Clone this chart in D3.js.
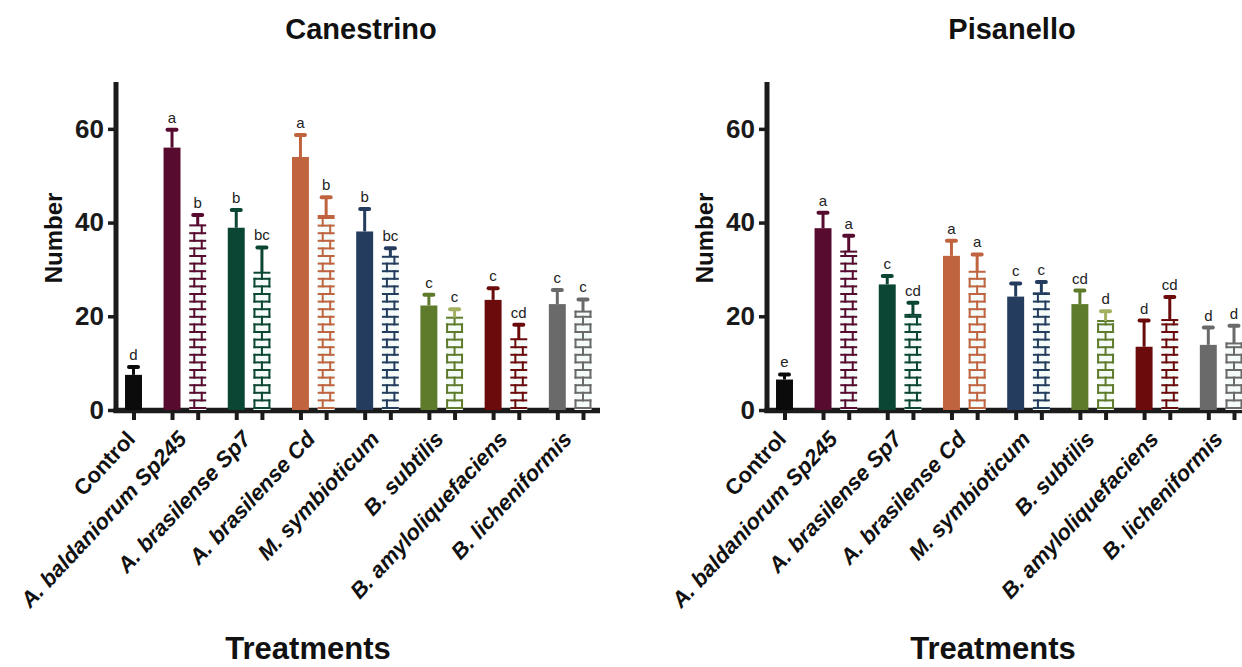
<!DOCTYPE html>
<html>
<head>
<meta charset="utf-8">
<script src="https://cdn.jsdelivr.net/npm/d3@7/dist/d3.min.js"></script>
<style>
  html, body { margin: 0; padding: 0; background: #fff; }
  svg { display: block; font-family: "Liberation Sans", Arial, Helvetica, sans-serif; }
</style>
</head>
<body>
<svg id="chart" width="1242" height="667"></svg>
<script>
// ---- data ----
const treatments = ["Control", "A. baldaniorum Sp245", "A. brasilense Sp7", "A. brasilense Cd",
  "M. symbioticum", "B. subtilis", "B. amyloliquefaciens", "B. licheniformis"];
const italicLabel = [false, true, true, true, true, true, true, true];
const groupColors = ["#0b0b0b", "#570b2f", "#0b4533", "#c0633f", "#243d5e", "#5e7b2b", "#6b0b0c", "#6a6a6a"];
// error bar colour of the patterned bar in each inoculated group
const patternErrColors = ["#570b2f", "#0b4533", "#c0633f", "#243d5e", "#a3b062", "#6b0b0c", "#6a6a6a"];
const yTicks = [0, 20, 40, 60];

// Canestrino: solid bars (all 8 treatments) and patterned bars (7 inoculated treatments)
const canSolidMean = [7.5, 56.0, 38.9, 54.0, 38.1, 22.3, 23.5, 22.6];
const canSolidSD   = [1.7, 3.8, 3.8, 4.7, 4.8, 2.3, 2.5, 3.0];
const canSolidLetters = ["d", "a", "b", "a", "b", "c", "c", "c"];
const canPatMean = [39.4, 29.3, 41.4, 32.7, 19.7, 15.1, 21.0];
const canPatSD   = [2.2, 5.4, 4.0, 1.8, 1.8, 3.1, 2.6];
const canPatLetters = ["b", "bc", "b", "bc", "c", "cd", "c"];
const canPatStyle = ["brick", "box", "brick", "brick", "box", "brick", "box"];

// Pisanello
const pisSolidMean = [6.5, 38.8, 26.8, 32.9, 24.2, 22.6, 13.5, 13.9];
const pisSolidSD   = [1.1, 3.3, 1.8, 3.2, 2.8, 2.9, 5.6, 3.7];
const pisSolidLetters = ["e", "a", "c", "a", "c", "cd", "d", "d"];
const pisPatMean = [33.8, 20.3, 29.5, 24.9, 19.0, 19.2, 14.2];
const pisPatSD   = [3.4, 2.6, 3.7, 2.4, 2.1, 4.9, 3.8];
const pisPatLetters = ["a", "cd", "a", "c", "d", "cd", "d"];
const pisPatStyle = ["brick", "brick", "box", "brick", "box", "brick", "box"];

const panels = [
  { title: "Canestrino", solidMean: canSolidMean, solidSD: canSolidSD, solidLetters: canSolidLetters,
    patMean: canPatMean, patSD: canPatSD, patLetters: canPatLetters, patStyle: canPatStyle,
    offset: 0, xAxisEnd: 600, treatX: 308 },
  { title: "Pisanello", solidMean: pisSolidMean, solidSD: pisSolidSD, solidLetters: pisSolidLetters,
    patMean: pisPatMean, patSD: pisPatSD, patLetters: pisPatLetters, patStyle: pisPatStyle,
    offset: 651, xAxisEnd: 1260, treatX: 993 }
];

// ---- layout ----
const svg = d3.select("#chart");
const y = d3.scaleLinear().domain([0, 70]).range([410, 82]);
const barHalf = 0.33;      // half bar width in slot units
const rowH = 7.6;          // brick row height (px)
const axisColor = "#1b1b1b";

// slot index of each bar: control alone, then solid/patterned pairs
function solidSlot(i) { return i === 0 ? 0 : 1.5 + 2.5 * (i - 1); }
function patSlot(j) { return 2.5 + 2.5 * j; }

function drawBrick(g, x0, x1, yTop, yBase, color, style) {
  const w = x1 - x0;
  const phase = style === "box" ? 0 : 0.27;
  const lines = [];
  // horizontal lines from the base upward
  for (let yy = yBase; yy > yTop + 0.5; yy -= rowH) lines.push([x0, yy, x1, yy]);
  lines.push([x0, yTop, x1, yTop]);
  // vertical joints, offset by half a brick on alternate rows
  let k = 0;
  for (let yy = yBase; yy > yTop + 0.5; yy -= rowH, k++) {
    const ya = Math.max(yTop, yy - rowH);
    const f = (k % 2 === 0) ? phase : (phase + 0.5) % 1;
    const xs = [x0 + f * w];
    if (f === 0) xs.push(x1);
    xs.forEach(xv => lines.push([xv, yy, xv, ya]));
  }
  g.selectAll(null).data(lines).join("line")
    .attr("x1", d => d[0]).attr("y1", d => d[1]).attr("x2", d => d[2]).attr("y2", d => d[3])
    .attr("stroke", color).attr("stroke-width", 2).attr("stroke-linecap", "square");
}

function drawPanel(p) {
  const x = d3.scaleLinear().domain([0, 17.5]).range([133.5 + p.offset, 583 + p.offset]);
  const axisX = 116 + p.offset;
  const g = svg.append("g");

  // title
  g.append("text").attr("x", axisX + 245).attr("y", 39).attr("text-anchor", "middle")
    .attr("font-size", 29).attr("font-weight", "bold").attr("fill", "#111").text(p.title);

  // y axis ticks and labels
  const yAxis = d3.axisLeft(y).tickValues(yTicks).tickSize(8).tickSizeOuter(0).tickPadding(4);
  const ya = g.append("g").attr("transform", `translate(${axisX},0)`).call(yAxis);
  ya.select(".domain").remove();
  ya.selectAll(".tick line").attr("stroke", axisColor).attr("stroke-width", 3.5);
  ya.selectAll(".tick text").attr("font-size", 26).attr("font-weight", "bold")
    .attr("fill", "#1a1a1a").attr("font-family", "Liberation Sans, Arial, sans-serif");

  // x axis tick marks under every bar
  const slots = [0];
  for (let j = 0; j < 7; j++) { slots.push(solidSlot(j + 1)); slots.push(patSlot(j)); }
  const xAxis = d3.axisBottom(x).tickValues(slots).tickFormat("").tickSize(10).tickSizeOuter(0);
  const xa = g.append("g").attr("transform", `translate(0,${y(0)})`).call(xAxis);
  xa.select(".domain").remove();
  xa.selectAll(".tick line").attr("stroke", axisColor).attr("stroke-width", 4);

  // axis lines
  g.append("line").attr("x1", axisX).attr("x2", axisX).attr("y1", y(70)).attr("y2", y(0) + 3)
    .attr("stroke", axisColor).attr("stroke-width", 5);
  g.append("line").attr("x1", axisX - 2.5).attr("x2", p.xAxisEnd).attr("y1", y(0) + 0.5).attr("y2", y(0) + 0.5)
    .attr("stroke", axisColor).attr("stroke-width", 5.5);

  // y axis title
  g.append("text").attr("transform", `translate(${axisX - 54},238) rotate(-90)`)
    .attr("text-anchor", "middle").attr("font-size", 24).attr("font-weight", "bold")
    .attr("fill", "#111").text("Number");

  // x axis title
  g.append("text").attr("x", p.treatX).attr("y", 659).attr("text-anchor", "middle")
    .attr("font-size", 31).attr("font-weight", "bold").attr("fill", "#111").text("Treatments");

  // category labels
  treatments.forEach((t, i) => {
    const c = i === 0 ? x(0) : (x(solidSlot(i)) + x(patSlot(i - 1))) / 2;
    g.append("text").attr("transform", `translate(${c + 3},440) rotate(-47)`)
      .attr("text-anchor", "end").attr("font-size", 22).attr("font-weight", "bold")
      .attr("font-style", italicLabel[i] ? "italic" : "normal").attr("fill", "#111").text(t);
  });

  const bars = g.append("g");
  // error bar: mean + SD with a rounded cap
  function errBar(cx, mean, sd, color) {
    bars.append("line").attr("x1", cx).attr("x2", cx).attr("y1", y(mean)).attr("y2", y(mean + sd))
      .attr("stroke", color).attr("stroke-width", 3);
    bars.append("line").attr("x1", cx - 4.5).attr("x2", cx + 4.5).attr("y1", y(mean + sd)).attr("y2", y(mean + sd))
      .attr("stroke", color).attr("stroke-width", 4).attr("stroke-linecap", "round");
  }
  function letter(cx, top, txt) {
    bars.append("text").attr("x", cx).attr("y", y(top) - 7).attr("text-anchor", "middle")
      .attr("font-size", 15).attr("fill", "#222").text(txt);
  }

  // solid bars
  p.solidMean.forEach((m, i) => {
    const s = solidSlot(i);
    bars.append("rect").attr("x", x(s - barHalf)).attr("width", x(s + barHalf) - x(s - barHalf))
      .attr("y", y(m)).attr("height", y(0) - y(m)).attr("fill", groupColors[i]);
    errBar(x(s), m, p.solidSD[i], groupColors[i]);
    letter(x(s), m + p.solidSD[i], p.solidLetters[i]);
  });

  // patterned bars
  p.patMean.forEach((m, j) => {
    const s = patSlot(j);
    const x0 = x(s - barHalf), x1 = x(s + barHalf);
    const col = groupColors[j + 1];
    bars.append("rect").attr("x", x0).attr("width", x1 - x0).attr("y", y(m)).attr("height", y(0) - y(m))
      .attr("fill", "#f5fbf8");
    drawBrick(bars.append("g"), x0 + 1, x1 - 1, y(m), y(0) - 2, col, p.patStyle[j]);
    errBar(x(s), m, p.patSD[j], patternErrColors[j]);
    letter(x(s), m + p.patSD[j], p.patLetters[j]);
  });
}

panels.forEach(drawPanel);
</script>
</body>
</html>
